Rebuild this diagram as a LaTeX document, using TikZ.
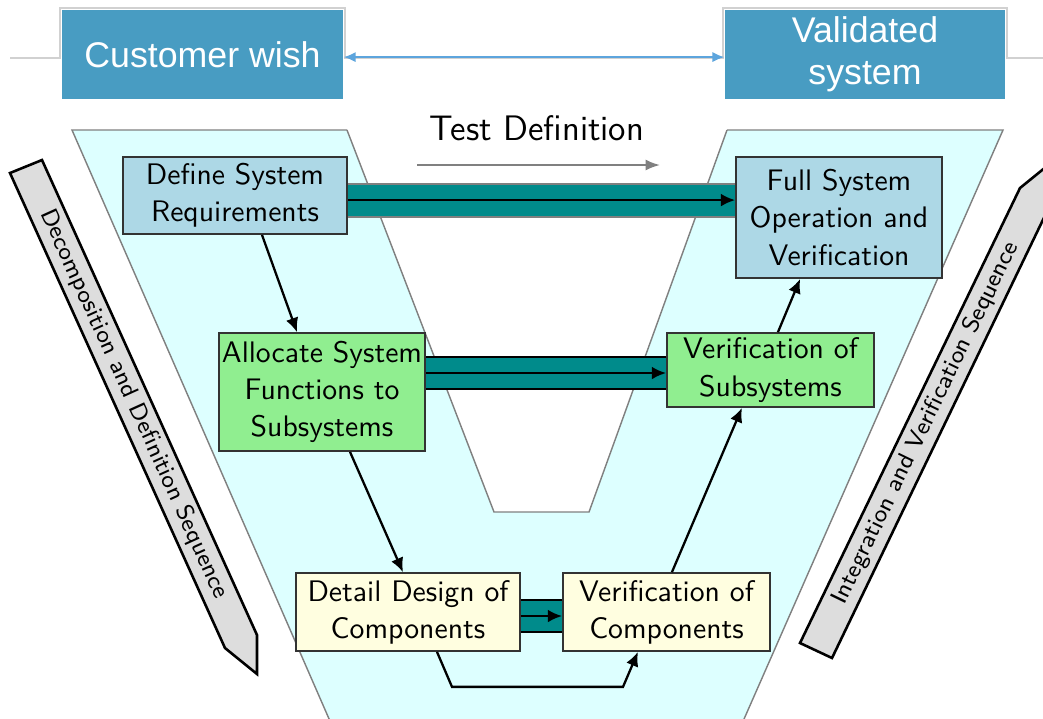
\documentclass[tikz,border=0pt]{standalone}
\usepackage{fontspec}
\newfontfamily\slidefont{Liberation Sans}
\usetikzlibrary{arrows.meta}

\definecolor{slideblue}{RGB}{72,156,194}
\definecolor{linkblue}{RGB}{93,165,221}
\definecolor{funnelcyan}{RGB}{221,255,255}
\definecolor{reqblue}{RGB}{173,216,230}
\definecolor{subgreen}{RGB}{144,238,144}
\definecolor{compyellow}{RGB}{255,254,224}
\definecolor{pipeteal}{RGB}{0,139,139}
\definecolor{pencilgray}{RGB}{221,221,221}

\tikzset{stage/.style={draw=black!80,line width=0.6pt,inner sep=0pt,align=center,
                       font=\sffamily\fontsize{10.4}{13}\selectfont},
         header/.style={fill=slideblue,text=white,inner sep=0pt,align=center,minimum height=31.2pt,
                       font=\slidefont\fontsize{12.5}{14.7}\selectfont},
         flow/.style={-{Latex[length=5pt,width=4.5pt]},line width=0.8pt},
         pipe/.style={double=pipeteal,double distance=10.8pt,line width=0.7pt},
         pencil/.style={fill=pencilgray,draw=black,line width=0.9pt},
         seqlabel/.style={font=\sffamily\fontsize{8.4}{10}\selectfont}}

\begin{document}
\begin{tikzpicture}[x=0.35pt,y=-0.35pt]
                  \useasboundingbox (0,0) rectangle (1043,718);
                  \clip (0,0) rectangle (1043,718);
                  % slide frame
                  \draw[black!18,line width=0.4pt] (10,58) -- (60,58) -- (60,8) -- (345,8) -- (345,58) -- (723,58)
                        -- (723,8) -- (1007,8) -- (1007,58) -- (1043,58);
                  % the V
                  \fill[funnelcyan] (72,130) -- (347,130) -- (494,512) -- (589,512) -- (727,130) -- (1003,130)
                        -- (726,760) -- (347,760) -- cycle;
                  \draw[gray,line width=0.5pt] (347,130) -- (72,130) -- (347,760);
                  \draw[gray,line width=0.5pt] (727,130) -- (1003,130) -- (726,760);
                  \draw[gray,line width=0.5pt] (347,130) -- (494,512) -- (589,512) -- (727,130);
                  % sequence pencils
                  \draw[pencil] (10,173) -- (225,648) -- (257,674) -- (257,635) -- (42,160) -- cycle;
                  \node[seqlabel,rotate=-65.6] (decomp) at (134,404) {Decomposition and Definition Sequence};
                  \draw[pencil] (800,643) -- (1020,188) -- (1052,162) -- (1052,201) -- (832,658) -- cycle;
                  \node[seqlabel,rotate=64.2] (integ) at (926,423) {Integration and Verification Sequence};

                  \node[header,minimum width=98.4pt] (wish) at (202.5,54.5) {Customer wish};
                  \node[header,minimum width=98pt] (valid) at (865,54.5) {Validated\\system};
                  \draw[{Latex[length=4.2pt,width=3.6pt]}-{Latex[length=4.2pt,width=3.6pt]},linkblue,line width=0.7pt]
                        ([yshift=-0.9pt]wish.east) -- ([yshift=-0.9pt]valid.west);

                  \node[font=\sffamily\fontsize{12.4}{14}\selectfont] (tdef) at (537,128) {Test Definition};
                  \coordinate (tdefa) at (417,165);
                  \coordinate (tdefb) at (660,165);
                  \draw[-{Latex[length=5pt,width=3.8pt]},gray,line width=0.7pt] (tdefa) -- (tdefb);

                  \node[stage,fill=reqblue,minimum width=78.4pt,minimum height=27pt] (req) at (235,195.5) {Define System\\Requirements};
                  \node[stage,fill=reqblue,minimum width=72.1pt,minimum height=42.4pt] (full) at (839,217.5) {Full System\\Operation and\\Verification};
                  \node[stage,fill=subgreen,minimum width=72.1pt,minimum height=41.3pt] (alloc) at (322,392) {Allocate System\\Functions to\\Subsystems};
                  \node[stage,fill=subgreen,minimum width=72.5pt,minimum height=25.9pt] (versub) at (770.5,370) {Verification of\\Subsystems};
                  \node[stage,fill=compyellow,minimum width=78.4pt,minimum height=27.3pt] (detail) at (408,612) {Detail Design of\\Components};
                  \node[stage,fill=compyellow,minimum width=72.5pt,minimum height=27.3pt] (vercomp) at (666.5,612) {Verification of\\Components};

                  % test definition pipes
                  \coordinate (p1) at ([yshift=-1.6pt]req.east);
                  \coordinate (p2) at ([yshift=6.65pt]alloc.east);
                  \coordinate (p3) at ([yshift=-1.4pt]detail.east);
                  \draw[pipe,gray] (p1) -- (p1 -| full.west);
                  \draw[pipe,black] (p2) -- (p2 -| versub.west);
                  \draw[pipe,black] (p3) -- (p3 -| vercomp.west);
                  \draw[flow] (p1) -- (p1 -| full.west);
                  \draw[flow] (p2) -- (p2 -| versub.west);
                  \draw[flow] (p3) -- (p3 -| vercomp.west);

                  \draw[flow] ([xshift=9.45pt]req.south) -- ([xshift=-8.75pt]alloc.north);
                  \draw[flow] ([xshift=9.8pt]alloc.south) -- ([xshift=-1.75pt]detail.north);
                  \draw[flow] ([xshift=10.15pt]detail.south) -- ++(15,35) -- ++(171,0) -- ([xshift=-10pt]vercomp.south);
                  \draw[flow] ([xshift=1.9pt]vercomp.north) -- ([xshift=-10pt]versub.south);
                  \draw[flow] ([xshift=2.6pt]versub.north) -- ([xshift=-13.6pt]full.south);
              \end{tikzpicture}
\end{document}
